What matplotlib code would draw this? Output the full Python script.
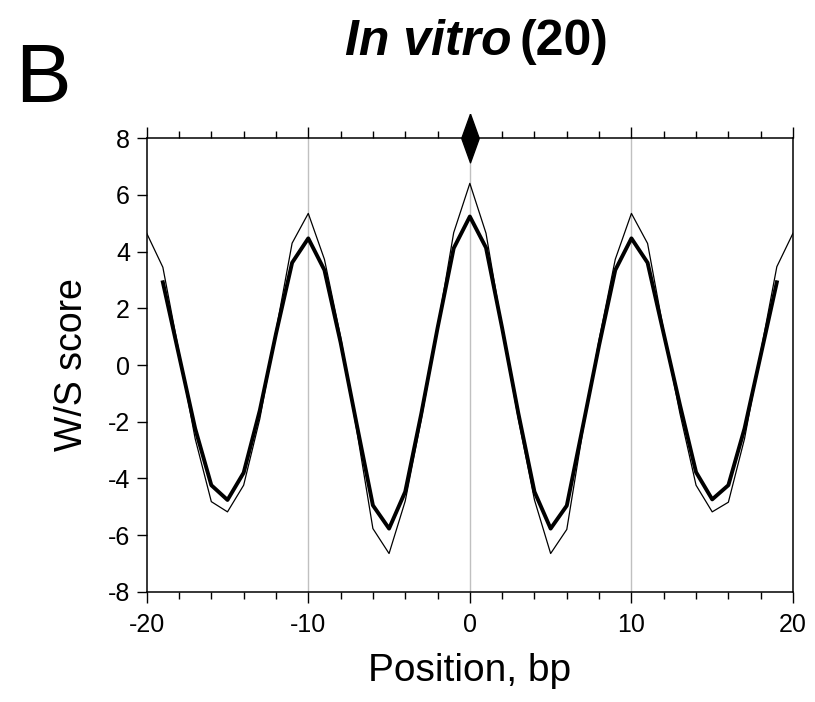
import numpy as np
import matplotlib
matplotlib.use("Agg")
import matplotlib.pyplot as plt
from matplotlib.ticker import MultipleLocator

plt.rcParams['font.family'] = ['Liberation Sans', 'DejaVu Sans']
plt.rcParams['axes.unicode_minus'] = False

# positions (bp) and W/S scores
pos_thin = np.arange(-20, 21)
score_thin = [4.65, 3.45, 0.45, -2.60, -4.82, -5.18, -4.24, -1.90, 1.20, 4.30,
              5.35, 3.73, 1.00, -2.30, -5.77, -6.65, -4.80, -1.90, 1.30, 4.67,
              6.41,
              4.65, 1.30, -1.90, -4.76, -6.65, -5.80, -2.30, 0.90, 3.73, 5.35,
              4.29, 1.20, -1.70, -4.24, -5.18, -4.84, -2.60, 0.45, 3.47, 4.65]

pos_thick = np.arange(-19, 20)
score_thick = [2.92, 0.34, -2.24, -4.24, -4.76, -3.80, -1.60, 1.10, 3.61, 4.47,
               3.35, 0.80, -2.10, -4.95, -5.77, -4.47, -1.70, 1.30, 4.12, 5.24,
               4.14, 1.30, -1.70, -4.47, -5.77, -4.96, -2.15, 0.70, 3.35, 4.47,
               3.61, 1.10, -1.40, -3.78, -4.74, -4.24, -2.24, 0.34, 2.92]

grid_x = [-10, 0, 10]
dyad = (0, 8)

fig = plt.figure(figsize=(8.15, 7.02), dpi=100)
ax = fig.add_axes([0.18, 0.157, 0.793, 0.646])

for gx in grid_x:
    ax.axvline(gx, color="#c0c0c0", lw=1.0, zorder=0)

ax.plot(pos_thin, score_thin, color="black", lw=0.9, zorder=2)
ax.plot(pos_thick, score_thick, color="black", lw=2.8, zorder=3)

# tall thin diamond marking the dyad
diamond = [(0, 1), (0.36, 0), (0, -1), (-0.36, 0), (0, 1)]
ax.plot([dyad[0]], [dyad[1]], marker=diamond, markersize=35, color="black",
        clip_on=False, zorder=6, linestyle="none")

ax.set_xlim(-20, 20)
ax.set_ylim(-8, 8)
ax.xaxis.set_major_locator(MultipleLocator(10))
ax.xaxis.set_minor_locator(MultipleLocator(2))
ax.yaxis.set_major_locator(MultipleLocator(2))

for sp in ax.spines.values():
    sp.set_linewidth(1.1)

ax.tick_params(axis="x", which="both", direction="out", top=True, bottom=True,
               labelsize=18, width=1.0)
ax.tick_params(axis="x", which="major", length=8, pad=7)
ax.tick_params(axis="x", which="minor", length=5)
ax.tick_params(axis="y", direction="out", left=True, right=False,
               labelsize=18, length=7, width=1.0, pad=5)

ax.set_xlabel("Position, bp", fontsize=28, labelpad=12)
ax.set_ylabel("W/S score", fontsize=27, labelpad=13)

fig.text(0.628, 0.922, "In vitro", fontsize=36, fontweight="bold",
         fontstyle="italic", ha="right", va="baseline")
fig.text(0.637, 0.922, "(20)", fontsize=36, fontweight="bold",
         ha="left", va="baseline")
fig.text(0.018, 0.855, "B", fontsize=60, ha="left", va="baseline")

fig.savefig("out.png", dpi=100)
